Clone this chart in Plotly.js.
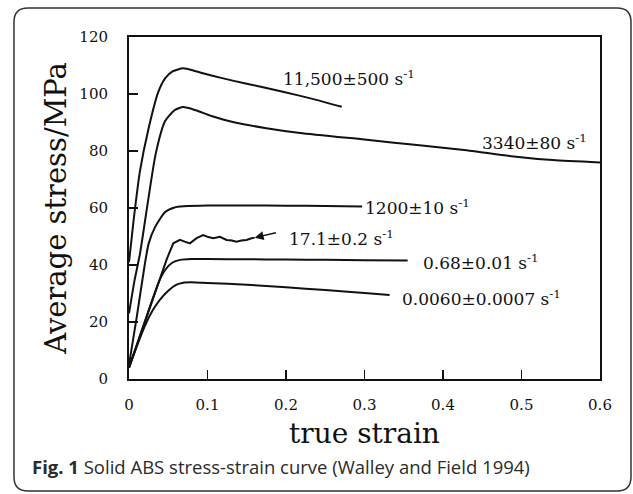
<!DOCTYPE html>
<html>
<head>
<meta charset="utf-8">
<script src="https://cdn.plot.ly/plotly-3.0.1.min.js"></script>
<style>
html,body{margin:0;padding:0;background:#fff;}
#chart{width:633px;height:494px;}
</style>
</head>
<body>
<div id="chart"></div>
<script>
// ---- data (true strain, average stress in MPa) ----
const rateLabels = ["11,500±500 s<sup>-1</sup>", "3340±80 s<sup>-1</sup>", "1200±10 s<sup>-1</sup>",
                    "17.1±0.2 s<sup>-1</sup>", "0.68±0.01 s<sup>-1</sup>", "0.0060±0.0007 s<sup>-1</sup>"];

const strain11500 = [0, 0.006, 0.014, 0.025, 0.037, 0.046, 0.056, 0.069, 0.085, 0.105, 0.132, 0.165, 0.196, 0.235, 0.271];
const stress11500 = [41, 56, 73, 88, 100.5, 105.5, 108, 109, 108, 106.5, 104.7, 102.7, 100.8, 98.2, 95.5];

const strain3340 = [0, 0.007, 0.014, 0.024, 0.034, 0.046, 0.058, 0.069, 0.085, 0.105, 0.135, 0.175, 0.218, 0.3, 0.37, 0.43, 0.49, 0.54, 0.6];
const stress3340 = [23, 34.5, 44, 62, 79, 90.5, 94.3, 95.4, 94.3, 92.3, 90, 88, 86.3, 84, 82, 80.3, 78.1, 76.8, 76.0];

const strain1200 = [0, 0.01, 0.02, 0.025, 0.033, 0.046, 0.058, 0.07, 0.1, 0.15, 0.2, 0.25, 0.297];
const stress1200 = [5, 22, 40, 47.5, 53.2, 58.6, 60.2, 60.6, 60.9, 60.9, 60.8, 60.7, 60.5];

const strain17 = [0, 0.01, 0.02, 0.03, 0.039, 0.048, 0.0564, 0.0649, 0.071, 0.0776, 0.0861, 0.0945, 0.101, 0.1073, 0.1158, 0.1243, 0.131, 0.137, 0.143, 0.1497, 0.155, 0.16];
const stress17 = [4, 12, 20, 28, 35.5, 42, 47.6, 48.8, 48.2, 47.6, 49.4, 50.5, 49.8, 49.4, 49.9, 48.8, 48.6, 48.2, 48.6, 48.8, 49.3, 49.6];

const strain068 = [0, 0.01, 0.02, 0.03, 0.039, 0.047, 0.055, 0.065, 0.08, 0.1, 0.15, 0.2, 0.25, 0.3, 0.355];
const stress068 = [4, 12, 20, 28, 34.7, 38.6, 40.8, 41.8, 42.1, 42.1, 42, 41.9, 41.8, 41.7, 41.6];

const strain0006 = [0, 0.01, 0.02, 0.03, 0.039, 0.05, 0.06, 0.069, 0.085, 0.1, 0.15, 0.2, 0.25, 0.3, 0.332];
const stress0006 = [4, 11.5, 18.5, 24, 27.7, 31, 33, 33.8, 33.9, 33.7, 33.1, 32.2, 31.2, 30.2, 29.5];

// label anchor positions (data coords) for the curve labels
const labelX = [0.194, 0.447, 0.298, 0.201, 0.372, 0.345];
const labelY = [105.6, 83.2, 60.4, 49.5, 41, 28.4];

const xTickVals = [0, 0.1, 0.2, 0.3, 0.4, 0.5, 0.6];
const yTickVals = [0, 20, 40, 60, 80, 100, 120];

// ---- traces ----
const series = [
  [strain11500, stress11500, 'spline'],
  [strain3340, stress3340, 'spline'],
  [strain1200, stress1200, 'spline'],
  [strain17, stress17, 'linear'],
  [strain068, stress068, 'spline'],
  [strain0006, stress0006, 'spline']
];
const traces = series.map((s, i) => ({
  x: s[0], y: s[1], type: 'scatter', mode: 'lines',
  name: rateLabels[i],
  line: {color: '#111', width: 2, shape: s[2], smoothing: 0.6},
  showlegend: false, hoverinfo: 'skip'
}));

const serif = 'DejaVu Serif, Liberation Serif, serif';

const annotations = rateLabels.map((t, i) => ({
  x: labelX[i], y: labelY[i], xref: 'x', yref: 'y',
  text: t, showarrow: false, xanchor: 'left', yanchor: 'middle',
  font: {family: serif, size: 17, color: '#111'}
}));
// arrow pointing at the 17.1 s^-1 curve
annotations.push({
  x: strain17[strain17.length - 1], y: stress17[stress17.length - 1],
  ax: 0.189, ay: 51.4, axref: 'x', ayref: 'y', xref: 'x', yref: 'y',
  text: '', showarrow: true, arrowhead: 2, arrowsize: 1.2, arrowwidth: 1.5, arrowcolor: '#111',
  standoff: 0, startstandoff: 0
});
// figure caption
annotations.push({
  xref: 'paper', yref: 'paper', x: -0.2102, y: -0.2573, xanchor: 'left', yanchor: 'middle',
  text: '<b>Fig. 1</b> Solid ABS stress-strain curve (Walley and Field 1994)',
  showarrow: false, font: {family: 'Open Sans, Noto Sans, sans-serif', size: 18.5, color: '#2b2b2b'}
});

// rounded caption box (paper coords)
const L = -0.2442, R = 1.0658, T = 1.0848, B = -0.3275, rx = 0.0297, ry = 0.0409;
const boxPath = `M ${L+rx},${T} L ${R-rx},${T} Q ${R},${T} ${R},${T-ry} L ${R},${B+ry} Q ${R},${B} ${R-rx},${B} ` +
                `L ${L+rx},${B} Q ${L},${B} ${L},${B+ry} L ${L},${T-ry} Q ${L},${T} ${L+rx},${T} Z`;

const layout = {
  width: 633, height: 494,
  margin: {l: 129, r: 33, t: 37, b: 115},
  paper_bgcolor: '#fff', plot_bgcolor: '#fff',
  xaxis: {
    range: [0, 0.6], tickvals: xTickVals, ticktext: xTickVals.map(String),
    showgrid: false, zeroline: false, showline: true, mirror: true,
    linecolor: '#111', linewidth: 2, ticks: 'inside', ticklen: 9, tickwidth: 1.5, tickcolor: '#111',
    ticklabelstandoff: 11,
    tickfont: {family: serif, size: 15, color: '#111'},
    title: {text: 'true strain', font: {family: serif, size: 28, color: '#111'}, standoff: 10}
  },
  yaxis: {
    range: [0, 120], tickvals: yTickVals, ticktext: yTickVals.map(String),
    showgrid: false, zeroline: false, showline: true, mirror: true,
    linecolor: '#111', linewidth: 2, ticks: 'inside', ticklen: 9, tickwidth: 1.5, tickcolor: '#111',
    ticklabelstandoff: 16,
    tickfont: {family: serif, size: 15, color: '#111'},
    title: {text: 'Average stress/MPa', font: {family: serif, size: 29, color: '#111'}, standoff: 4}
  },
  annotations: annotations,
  shapes: [{type: 'path', xref: 'paper', yref: 'paper', path: boxPath,
            line: {color: '#333', width: 1.5}, fillcolor: 'rgba(0,0,0,0)', layer: 'below'}]
};

Plotly.newPlot('chart', traces, layout, {staticPlot: true, displayModeBar: false});
</script>
</body>
</html>
